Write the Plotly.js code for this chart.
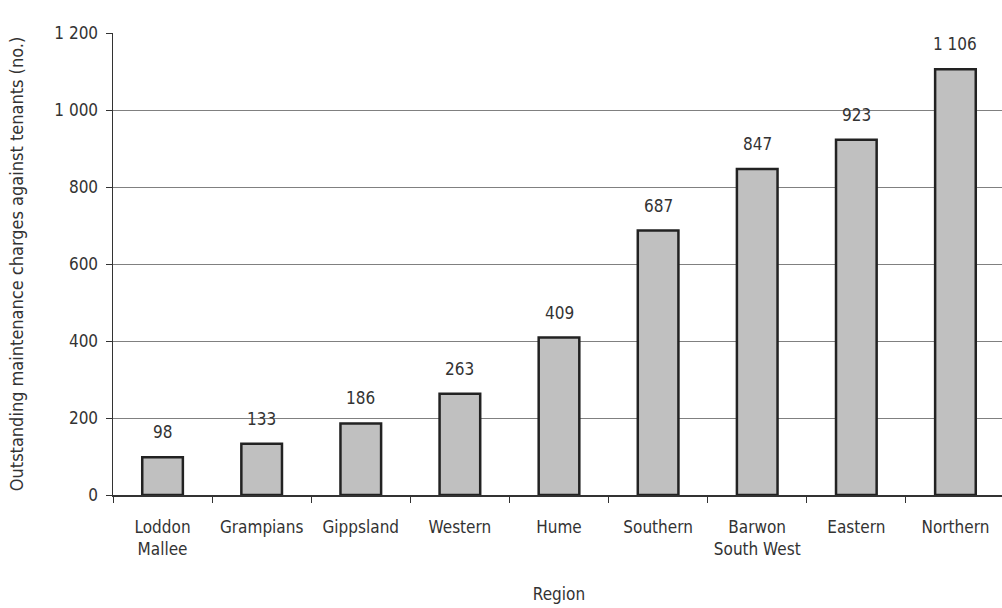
<!DOCTYPE html>
<html><head><meta charset="utf-8">
<script src="https://cdn.plot.ly/plotly-3.0.1.min.js"></script>
<style>html,body{margin:0;padding:0;overflow:hidden;background:#fff;width:1002px;height:608px}#c{width:1006px;height:608px}</style>
</head><body><div id="c"></div>
<script>
const categories = ["Loddon<br>Mallee","Grampians","Gippsland","Western","Hume","Southern","Barwon<br>South West","Eastern","Northern"];
const values = [98,133,186,263,409,687,847,923,1106];
const yTickVals = [0,200,400,600,800,1000,1200];
const yTickText = ["0","200","400","600","800","1 000","1 200"];
const FONT = '"DejaVu Sans Condensed","Liberation Sans Narrow","Arial Narrow",sans-serif';
const FS = 17;

const fmt = v => String(v).replace(/\B(?=(\d{3})+(?!\d))/g, ' ');

const trace = {
  type: 'bar', x: categories, y: values, width: 0.41,
  marker: {color: '#c0c0c0', line: {color: '#222', width: 2.5}},
  hoverinfo: 'skip'
};

const annotations = categories.map((c, i) => ({
  x: c, y: values[i], xref: 'x', yref: 'y', text: fmt(values[i]),
  showarrow: false, yanchor: 'bottom', yshift: 13,
  font: {family: FONT, size: FS, color: '#333'}
}));

const layout = {
  width: 1006, height: 608,
  margin: {l: 113, r: 1, t: 33, b: 113},
  paper_bgcolor: '#fff', plot_bgcolor: '#fff',
  showlegend: false,
  font: {family: FONT, size: FS, color: '#333'},
  xaxis: {
    type: 'category', showline: true, linecolor: '#333', linewidth: 1.5,
    ticks: 'outside', tickson: 'boundaries', ticklen: 6, tickcolor: '#333', tickwidth: 1,
    ticklabelstandoff: 16,
    showgrid: false, zeroline: false,
    tickfont: {family: FONT, size: FS, color: '#333'},
    title: {text: 'Region', font: {family: FONT, size: FS, color: '#333'}, standoff: 30}
  },
  yaxis: {
    range: [0, 1200], tickvals: yTickVals, ticktext: yTickText,
    showline: true, linecolor: '#333', linewidth: 1.5,
    ticks: 'outside', ticklen: 6, tickcolor: '#333', tickwidth: 1,
    ticklabelstandoff: 4,
    showgrid: true, gridcolor: '#808080', gridwidth: 1, zeroline: false,
    tickfont: {family: FONT, size: FS, color: '#333'},
    title: {text: 'Outstanding maintenance charges against tenants (no.)', font: {family: FONT, size: 18, color: '#333'}, standoff: 26}
  },
  annotations: annotations
};

Plotly.newPlot('c', [trace], layout, {displayModeBar: false, staticPlot: true});
</script></body></html>
